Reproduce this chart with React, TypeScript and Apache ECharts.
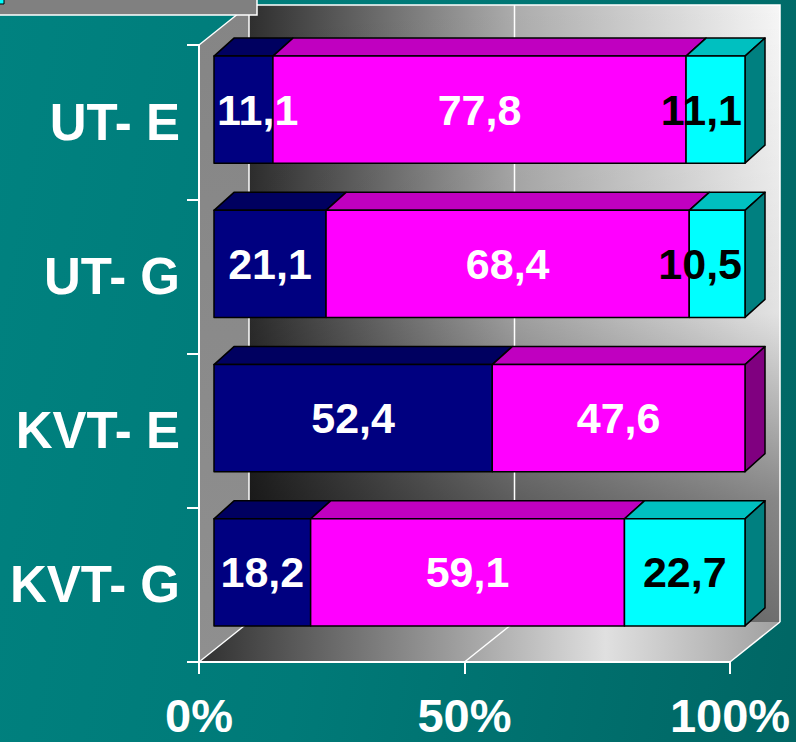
import React, { useEffect, useRef } from "react";
import * as echarts from "echarts";

const categories = ["UT- E", "UT- G", "KVT- E", "KVT- G"];
const navyValues = [11.1, 21.1, 52.4, 18.2];
const magentaValues = [77.8, 68.4, 47.6, 59.1];
const cyanValues = [11.1, 10.5, 0, 22.7];
const xTickStep = 50;

const FONT = '"Liberation Sans", Arial, sans-serif';

const seriesDefs = [
  { name: "Serie 1", values: navyValues, front: "#000080", top: "#000060", side: "#000040", text: "#ffffff" },
  { name: "Serie 2", values: magentaValues, front: "#ff00ff", top: "#c000c0", side: "#800080", text: "#ffffff" },
  { name: "Serie 3", values: cyanValues, front: "#00ffff", top: "#00c0c0", side: "#008080", text: "#000000" },
];

// depth geometry (pixels)
const WALL_DX = 50;
const WALL_DY = -40;
const BAR_OX = 15;
const BAR_OY = -12.5;
const BAR_DX = 20;
const BAR_DY = -18;
const BAR_FRAC = 0.694;
const LABEL_SIZE = 43;

let measureCtx: CanvasRenderingContext2D | null = null;
function textWidth(t: string): number {
  if (!measureCtx) {
    const c = document.createElement("canvas");
    measureCtx = c.getContext("2d");
  }
  if (!measureCtx) return t.length * LABEL_SIZE * 0.5;
  measureCtx.font = `bold ${LABEL_SIZE}px ${FONT}`;
  return measureCtx.measureText(t).width;
}

function buildSegments(si: number) {
  const out: number[][] = [];
  categories.forEach((_, ci) => {
    let start = 0;
    for (let k = 0; k < si; k++) start += seriesDefs[k].values[ci];
    const v = seriesDefs[si].values[ci];
    out.push([start, start + v, ci, v, si]);
  });
  return out;
}

function fmt(v: number) {
  return v.toFixed(1).replace(".", ",");
}

export default function App() {
  const ref = useRef<HTMLDivElement>(null);

  useEffect(() => {
    if (!ref.current) return;
    const chart = echarts.init(ref.current, null, { renderer: "svg" });

    const wallSeries: any = {
      type: "custom",
      name: "wall",
      z: -5,
      clip: false,
      silent: true,
      data: [[0, 0]],
      encode: { x: 0, y: 1 },
      renderItem: (params: any) => {
        const cs = params.coordSys;
        const gx = cs.x, gy = cs.y, gw = cs.width, gh = cs.height;
        const bx = gx + WALL_DX, by = gy + WALL_DY;
        const white = { stroke: "#ffffff", lineWidth: 1.5 };
        const line = (pts: number[][]) => ({ type: "polyline", shape: { points: pts }, style: { ...white, fill: null } });
        return {
          type: "group",
          children: [
            {
              type: "rect",
              shape: { x: bx, y: by, width: gw, height: gh },
              style: {
                fill: {
                  type: "linear", x: 0, y: 0, x2: 1, y2: 0,
                  colorStops: [
                    { offset: 0, color: "#2e2e2e" },
                    { offset: 0.5, color: "#acacac" },
                    { offset: 1, color: "#f6f6f6" },
                  ],
                },
              },
            },
            {
              type: "rect",
              shape: { x: bx, y: by, width: gw, height: gh },
              style: {
                fill: {
                  type: "linear", x: 0, y: 0, x2: 0, y2: 1,
                  colorStops: [
                    { offset: 0, color: "rgba(0,0,0,0)" },
                    { offset: 0.5, color: "rgba(0,0,0,0.08)" },
                    { offset: 0.8, color: "rgba(0,0,0,0.45)" },
                    { offset: 1, color: "rgba(0,0,0,0.55)" },
                  ],
                },
              },
            },
            {
              type: "polygon",
              shape: { points: [[gx, gy], [bx, by], [bx, by + gh], [gx, gy + gh]] },
              style: {
                fill: {
                  type: "linear", x: 0, y: 0, x2: 0, y2: 1,
                  colorStops: [
                    { offset: 0, color: "#858585" },
                    { offset: 1, color: "#8f8f8f" },
                  ],
                },
              },
            },
            {
              type: "polygon",
              shape: { points: [[gx, gy + gh], [gx + gw, gy + gh], [bx + gw, by + gh], [bx, by + gh]] },
              style: {
                fill: {
                  type: "linear", x: 0, y: 0, x2: 1, y2: 0,
                  colorStops: [
                    { offset: 0, color: "#303030" },
                    { offset: 0.45, color: "#a0a0a0" },
                    { offset: 0.7, color: "#e0e0e0" },
                    { offset: 1, color: "#a0a0a0" },
                  ],
                },
              },
            },
            line([[bx, by], [bx + gw, by], [bx + gw, by + gh]]),
            line([[bx, by], [bx, by + gh]]),
            line([[gx, gy], [bx, by]]),
            line([[bx + gw / 2, by], [bx + gw / 2, by + gh]]),
            line([[gx, gy + gh], [bx, by + gh]]),
            line([[gx + gw / 2, gy + gh], [bx + gw / 2, by + gh]]),
            line([[gx + gw, gy + gh], [bx + gw, by + gh]]),
          ],
        };
      },
    };

    const barSeries: any[] = seriesDefs.map((def, si) => ({
      type: "custom",
      name: def.name,
      z: 3,
      clip: false,
      data: buildSegments(si),
      encode: { x: [0, 1], y: 2 },
      renderItem: (params: any, api: any) => {
        const start = api.value(0);
        const end = api.value(1);
        const ci = api.value(2);
        if (end - start <= 0) return null;
        const p0 = api.coord([start, ci]);
        const p1 = api.coord([end, ci]);
        const band = api.size([0, 1])[1];
        const h = band * BAR_FRAC;
        const x0 = p0[0] + BAR_OX;
        const x1 = p1[0] + BAR_OX;
        const yc = p0[1] + BAR_OY;
        const yt = yc - h / 2;
        const yb = yc + h / 2;
        const edge = { stroke: "#000000", lineWidth: 1.5, lineJoin: "round" };
        const children: any[] = [
          {
            type: "polygon",
            shape: { points: [[x0, yt], [x1, yt], [x1 + BAR_DX, yt + BAR_DY], [x0 + BAR_DX, yt + BAR_DY]] },
            style: { fill: def.top, ...edge },
          },
        ];
        if (end >= 99.95) {
          children.push({
            type: "polygon",
            shape: { points: [[x1, yt], [x1 + BAR_DX, yt + BAR_DY], [x1 + BAR_DX, yb + BAR_DY], [x1, yb]] },
            style: { fill: def.side, ...edge },
          });
        }
        children.push({
          type: "rect",
          shape: { x: x0, y: yt, width: x1 - x0, height: h },
          style: { fill: def.front, ...edge },
        });
        return { type: "group", children };
      },
    }));

    const labelData: number[][] = [];
    seriesDefs.forEach((_, si) => buildSegments(si).forEach((d) => labelData.push(d)));

    const labelSeries: any = {
      type: "custom",
      name: "labels",
      z: 6,
      clip: false,
      silent: true,
      data: labelData,
      encode: { x: [0, 1], y: 2 },
      renderItem: (params: any, api: any) => {
        const start = api.value(0);
        const end = api.value(1);
        const ci = api.value(2);
        const v = api.value(3);
        const si = api.value(4);
        if (v <= 0) return null;
        const p0 = api.coord([start, ci]);
        const p1 = api.coord([end, ci]);
        const pL = api.coord([0, ci]);
        const pR = api.coord([100, ci]);
        const text = fmt(v);
        const hw = textWidth(text) / 2;
        let cx = (p0[0] + p1[0]) / 2 + BAR_OX;
        const minX = pL[0] + BAR_OX + hw + 3;
        const maxX = pR[0] + BAR_OX - hw - 3;
        cx = Math.max(minX, Math.min(maxX, cx));
        const cy = p0[1] + BAR_OY;
        return {
          type: "text",
          x: cx,
          y: cy,
          style: {
            text,
            fill: seriesDefs[si].text,
            font: `bold ${LABEL_SIZE}px ${FONT}`,
            align: "center",
            verticalAlign: "middle",
          },
        };
      },
    };

    chart.setOption({
      animation: false,
      backgroundColor: "transparent",
      grid: { left: 199, top: 45, width: 531, height: 617, containLabel: false },
      xAxis: {
        type: "value",
        min: 0,
        max: 100,
        interval: xTickStep,
        axisLine: { show: true, lineStyle: { color: "#ffffff", width: 2 } },
        axisTick: { show: true, length: 12, lineStyle: { color: "#ffffff", width: 2 } },
        splitLine: { show: false },
        axisLabel: {
          formatter: "{value}%",
          color: "#ffffff",
          fontFamily: FONT,
          fontWeight: "bold",
          fontSize: 47,
          margin: 30,
        },
      },
      yAxis: {
        type: "category",
        data: categories,
        inverse: true,
        axisLine: { show: true, lineStyle: { color: "#ffffff", width: 2 } },
        axisTick: { show: true, length: 12, alignWithLabel: false, lineStyle: { color: "#ffffff", width: 2 } },
        splitLine: { show: false },
        axisLabel: {
          color: "#ffffff",
          fontFamily: FONT,
          fontWeight: "bold",
          fontSize: 51,
          margin: 19,
        },
      },
      graphic: [
        {
          type: "rect",
          z: 100,
          shape: { x: -10, y: -10, width: 267, height: 25 },
          style: { fill: "#808080", stroke: "#ffffff", lineWidth: 1.5 },
        },
        {
          type: "rect",
          z: 101,
          shape: { x: -4, y: -4, width: 8, height: 8 },
          style: { fill: "#00ffff", stroke: "#000000", lineWidth: 1 },
        },
      ],
      series: [wallSeries, ...barSeries, labelSeries],
    });

    return () => {
      chart.dispose();
    };
  }, []);

  return (
    <div
      style={{
        position: "absolute",
        left: 0,
        top: 0,
        width: 796,
        height: 742,
        background: "linear-gradient(100deg, #008280 0%, #007a78 45%, #006664 100%)",
      }}
    >
      <div ref={ref} style={{ width: 796, height: 742 }} />
    </div>
  );
}
